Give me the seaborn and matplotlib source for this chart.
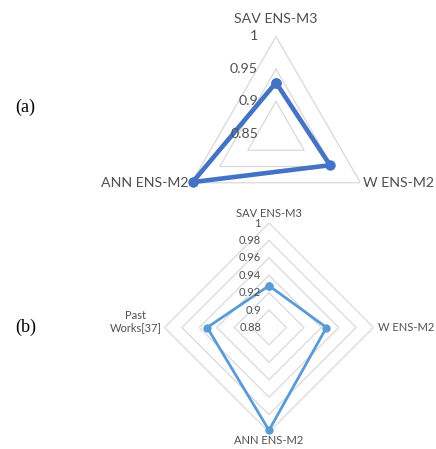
import numpy as np
import pandas as pd
import matplotlib
matplotlib.use("Agg")
import matplotlib.pyplot as plt
import seaborn as sns

# Panel (a): three ensemble models
cats_a = ["SAV ENS-M3", "W ENS-M2", "ANN ENS-M2"]
vals_a = [0.929, 0.946, 0.998]
ticks_a = [0.85, 0.9, 0.95, 1.0]
tick_labels_a = ["0.85", "0.9", "0.95", "1"]

# Panel (b): ensemble models compared with past works
cats_b = ["SAV ENS-M3", "W ENS-M2", "ANN ENS-M2", "Past\nWorks[37]"]
vals_b = [0.928, 0.946, 0.998, 0.951]
ticks_b = [0.88, 0.9, 0.92, 0.94, 0.96, 0.98, 1.0]
tick_labels_b = ["0.88", "0.9", "0.92", "0.94", "0.96", "0.98", "1"]

sns.set_style("white")
plt.rcParams["font.family"] = ["Lato", "DejaVu Sans"]

TEXT = "#505050"
GRID = "#D9D9D9"
PX = 72 / 100  # points per pixel at 100 dpi


def radar(ax, cats, vals, ticks, tick_labels, color, lw, ms, fs,
          cat_offsets, tick_dx):
    n = len(cats)
    theta = np.linspace(0, 2 * np.pi, n, endpoint=False)
    theta_closed = np.append(theta, 2 * np.pi)

    ax.set_theta_zero_location("N")
    ax.set_theta_direction(-1)
    ax.set_ylim(ticks[0], ticks[-1])
    ax.grid(False)
    ax.spines["polar"].set_visible(False)
    ax.set_xticks([])
    ax.set_yticks([])

    # polygonal gridlines at every radial tick
    for t in ticks[1:]:
        ax.plot(theta_closed, [t] * (n + 1), color=GRID, lw=0.9, zorder=1)

    df = pd.DataFrame({"theta": theta_closed,
                       "value": list(vals) + [vals[0]]})
    sns.lineplot(data=df, x="theta", y="value", ax=ax, sort=False,
                 color=color, lw=lw, marker="o", markersize=ms,
                 markeredgewidth=0, clip_on=False, zorder=3)
    ax.set_xlabel("")
    ax.set_ylabel("")

    for th, cat, (dx, dy, ha, va) in zip(theta, cats, cat_offsets):
        ax.annotate(cat, xy=(th, ticks[-1]), xytext=(dx * PX, dy * PX),
                    textcoords="offset points", ha=ha, va=va,
                    multialignment="center", fontsize=fs, color=TEXT,
                    annotation_clip=False)

    for t, lab in zip(ticks, tick_labels):
        ax.annotate(lab, xy=(0, t), xytext=(tick_dx * PX, 0),
                    textcoords="offset points", ha="right", va="center",
                    fontsize=fs, color=TEXT, annotation_clip=False)


fig = plt.figure(figsize=(4.36, 4.49), dpi=100)

W, H = 436, 449
# (a) centre (276, 134) px, radius 97.5 px
ca, ra = (276, 134), 97.5
ax_a = fig.add_axes([(ca[0] - ra) / W, 1 - (ca[1] + ra) / H,
                     2 * ra / W, 2 * ra / H], projection="polar")
radar(ax_a, cats_a, vals_a, ticks_a, tick_labels_a, "#4472C4",
      lw=3.3, ms=7.5, fs=10.2,
      cat_offsets=[(0, 17, "center", "center"),
                   (3, 0, "left", "center"),
                   (-3, 0, "right", "center")],
      tick_dx=-18)

# (b) centre (269, 327.5) px, radius 104.5 px
cb, rb = (269, 327.5), 104.5
ax_b = fig.add_axes([(cb[0] - rb) / W, 1 - (cb[1] + rb) / H,
                     2 * rb / W, 2 * rb / H], projection="polar")
radar(ax_b, cats_b, vals_b, ticks_b, tick_labels_b, "#5B9BD5",
      lw=2.0, ms=6, fs=8,
      cat_offsets=[(0, 10, "center", "center"),
                   (4, 0, "left", "center"),
                   (0, -8, "center", "center"),
                   (-3, 6, "right", "center")],
      tick_dx=-8)

fig.text(15 / W, 1 - 107.5 / H, "(a)", family="Liberation Serif",
         fontsize=13, ha="left", va="center", color="black")
fig.text(15 / W, 1 - 327.5 / H, "(b)", family="Liberation Serif",
         fontsize=13, ha="left", va="center", color="black")

fig.savefig("out.png", dpi=100, facecolor="white")
